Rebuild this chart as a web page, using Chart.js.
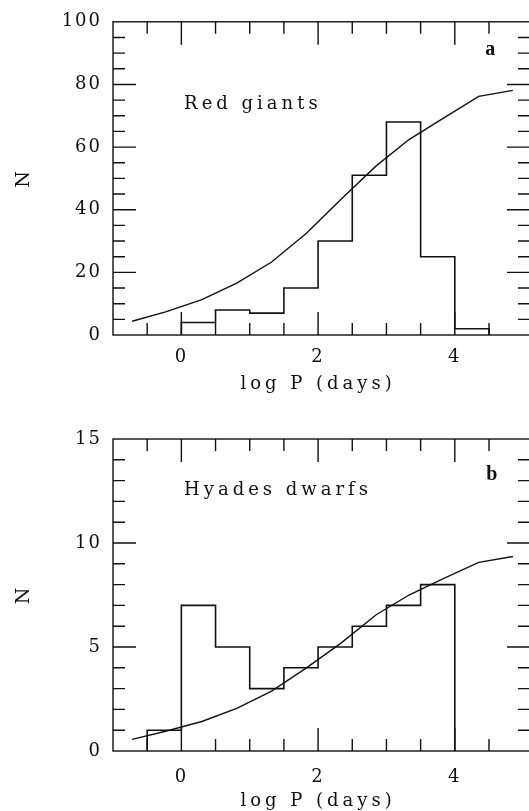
<!DOCTYPE html>
<html>
<head>
<meta charset="utf-8">
<script src="https://cdn.jsdelivr.net/npm/chart.js@4.4.1/dist/chart.umd.min.js"></script>
<style>
  html, body { margin: 0; padding: 0; background: #fff; overflow: hidden; }
  canvas { position: absolute; left: 0; }
  #chartA { top: 0; }
  #chartB { top: 405px; }
</style>
</head>
<body>
<canvas id="chartA" width="532" height="405"></canvas>
<canvas id="chartB" width="532" height="406"></canvas>
<script>
// histogram bin edges (log P) and counts per bin
var giantEdges = [0, 0.5, 1, 1.5, 2, 2.5, 3, 3.5, 4, 4.5];
var giantCounts = [4, 8, 7, 15, 30, 51, 68, 25, 2];
var dwarfEdges = [-0.5, 0, 0.5, 1, 1.5, 2, 2.5, 3, 3.5, 4];
var dwarfCounts = [1, 7, 5, 3, 4, 5, 6, 7, 8];

// model distributions
var curveLogP = [-0.72, -0.23, 0.3, 0.81, 1.32, 1.83, 2.34, 2.85, 3.33, 3.84, 4.35, 4.85];
var giantModel = [4.4, 7.4, 11.3, 16.6, 23.3, 32.5, 43.4, 54, 62.4, 69.3, 76.2, 78.1];
var dwarfModel = [0.56, 0.95, 1.42, 2.05, 2.88, 4.0, 5.2, 6.55, 7.5, 8.3, 9.07, 9.35];

// labelled ticks
var xTickLabels = [0, 2, 4];
var giantYLabels = [0, 20, 40, 60, 80, 100];
var dwarfYLabels = [0, 5, 10, 15];

var ink = '#111';
var serif = '"DejaVu Serif", serif';

function stepPoints(edges, counts) {
  var pts = [{x: edges[0], y: 0}];
  for (var i = 0; i < counts.length; i++) pts.push({x: edges[i], y: counts[i]});
  pts.push({x: edges[edges.length - 1], y: counts[counts.length - 1]});
  pts.push({x: edges[edges.length - 1], y: 0});
  return pts;
}

function linePoints(xs, ys) {
  return xs.map(function (x, i) { return {x: x, y: ys[i]}; });
}

function has(list, v) {
  return list.some(function (u) { return Math.abs(u - v) < 1e-6; });
}

// box around the plot, inward ticks on all four sides, and the text
var framePlugin = {
  id: 'frame',
  beforeDraw: function (chart) { chart.ctx.letterSpacing = '2px'; },
  afterDraw: function (chart, args, o) {
    var ctx = chart.ctx, a = chart.chartArea;
    var xs = chart.scales.x, ys = chart.scales.y;
    ctx.save();
    ctx.strokeStyle = ink;
    ctx.lineWidth = 1.4;
    ctx.strokeRect(a.left, a.top, a.right - a.left, a.bottom - a.top);
    ctx.beginPath();
    xs.ticks.forEach(function (t) {
      if (t.value <= xs.min + 1e-6 || t.value >= xs.max - 1e-6) return;
      var px = xs.getPixelForValue(t.value);
      var len = has(xTickLabels, t.value) ? 23 : 12;
      ctx.moveTo(px, a.bottom); ctx.lineTo(px, a.bottom - len);
      ctx.moveTo(px, a.top); ctx.lineTo(px, a.top + len);
    });
    ys.ticks.forEach(function (t) {
      if (t.value <= ys.min + 1e-6 || t.value >= ys.max - 1e-6) return;
      var py = ys.getPixelForValue(t.value);
      var len = has(o.yMajor, t.value) ? 23 : 12;
      ctx.moveTo(a.left, py); ctx.lineTo(a.left + len, py);
      ctx.moveTo(a.right, py); ctx.lineTo(a.right - len, py);
    });
    ctx.stroke();

    ctx.fillStyle = ink;
    ctx.textBaseline = 'middle';
    ctx.font = '18px ' + serif;
    ctx.letterSpacing = '4px';
    ctx.textAlign = 'center';
    ctx.fillText('log P (days)', xs.getPixelForValue(2), a.bottom + o.titleGap);
    ctx.textAlign = 'left';
    ctx.fillText(o.name, xs.getPixelForValue(o.nameAt[0]), ys.getPixelForValue(o.nameAt[1]));
    ctx.letterSpacing = '0px';
    ctx.textAlign = 'center';
    ctx.font = 'bold 20px "Liberation Serif", serif';
    ctx.fillText(o.tag, xs.getPixelForValue(o.tagAt[0]), ys.getPixelForValue(o.tagAt[1]));
    ctx.restore();
  }
};

function makePanel(id, edges, counts, model, yMax, yStep, yLabels, opts) {
  return new Chart(document.getElementById(id), {
    type: 'line',
    data: {
      datasets: [
        { data: stepPoints(edges, counts), stepped: 'before', borderColor: ink,
          borderWidth: 1.6, pointRadius: 0, fill: false },
        { data: linePoints(curveLogP, model), borderColor: ink,
          borderWidth: 1.4, pointRadius: 0, tension: 0, fill: false }
      ]
    },
    options: {
      responsive: false,
      animation: false,
      events: [],
      layout: { padding: { left: 0, right: 2, top: opts.top, bottom: 0 } },
      plugins: {
        legend: { display: false },
        tooltip: { enabled: false },
        frame: opts
      },
      scales: {
        x: {
          type: 'linear', min: -1, max: 5.1,
          grid: { display: false, drawTicks: false },
          border: { display: false },
          afterFit: function (s) {
            s.height = opts.xHeight;
            s.paddingLeft = 0;
            s.paddingRight = 0;
          },
          ticks: {
            stepSize: 0.5, autoSkip: false, maxRotation: 0, padding: opts.xPad,
            color: ink, font: { family: serif, size: 18 },
            callback: function (v) { return has(xTickLabels, v) ? String(v) : ''; }
          }
        },
        y: {
          min: 0, max: yMax,
          grid: { display: false, drawTicks: false },
          border: { display: false },
          afterFit: function (s) { s.width = 113; },
          title: { display: true, text: 'N', color: ink,
                   font: { family: serif, size: 19 }, padding: { top: 13, bottom: 0 } },
          ticks: {
            stepSize: yStep, autoSkip: false, padding: 11,
            color: ink, font: { family: serif, size: 18 },
            callback: function (v) { return has(yLabels, v) ? String(v) : ''; }
          }
        }
      }
    },
    plugins: [framePlugin]
  });
}

makePanel('chartA', giantEdges, giantCounts, giantModel, 100, 5, giantYLabels, {
  top: 20, xHeight: 70, xPad: 12, titleGap: 49, yMajor: giantYLabels,
  name: 'Red giants', nameAt: [0.04, 73.6], tag: 'a', tagAt: [4.52, 91]
});
makePanel('chartB', dwarfEdges, dwarfCounts, dwarfModel, 15, 1, dwarfYLabels, {
  top: 34, xHeight: 60, xPad: 16, titleGap: 50, yMajor: dwarfYLabels,
  name: 'Hyades dwarfs', nameAt: [0.04, 12.55], tag: 'b', tagAt: [4.54, 13.27]
});
</script>
</body>
</html>
